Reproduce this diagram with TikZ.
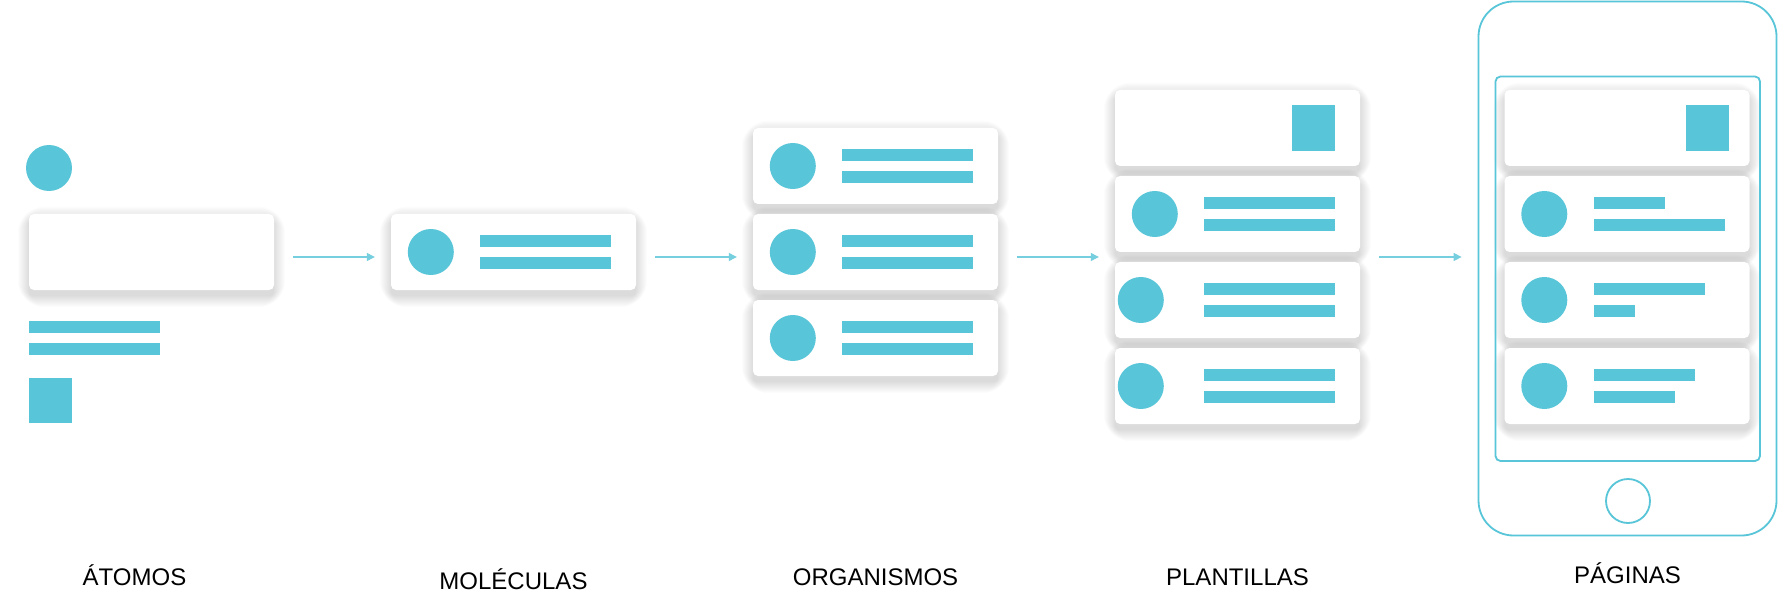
\documentclass[tikz,border=0pt]{standalone}
\usepackage{fontspec}
\setmainfont{Liberation Sans}
\usetikzlibrary{arrows.meta}
\pgfdeclarelayer{background}
\pgfsetlayers{background,main}
\definecolor{atomblue}{RGB}{88,197,216}
\definecolor{flowblue}{RGB}{118,207,222}

\begin{document}
\begin{tikzpicture}[x=1pt,y=-1pt,
    card/.style={fill=white,rounded corners=5pt,minimum width=245pt,minimum height=76pt,inner sep=0pt},
    dot/.style={circle,fill=atomblue,minimum size=46pt,inner sep=0pt},
    bar/.style={fill=atomblue,minimum height=12pt,inner sep=0pt,anchor=west},
    sq/.style={fill=atomblue,minimum width=43pt,minimum height=46pt,inner sep=0pt},
    outline/.style={draw=atomblue,line width=1.8pt,inner sep=0pt},
    haze/.style={fill=black,opacity=0.013},
    flow/.style={draw=flowblue,line width=1.2pt,-{Triangle[length=8pt,width=8pt]},shorten <=19pt,shorten >=16pt},
    lbl/.style={anchor=base,font=\fontsize{24}{28}\selectfont}]

    % atomos
    \node[dot] (a1) at (49,168) {};
    \node[card] (atom) at (151.5,252) {};
    \node[bar,minimum width=131pt] (a2) at (29,327) {};
    \node[bar,minimum width=131pt] (a3) at (29,349) {};
    \node[sq,minimum height=45pt] (a4) at (50.5,400.5) {};

    % moleculas
    \node[card] (mol) at (513.5,252) {};
    \node[dot] (md) at ([xshift=40pt]mol.west) {};
    \node[bar,minimum width=131pt] (mb) at ([xshift=89pt,yshift=11pt]mol.west) {};
    \node[bar,minimum width=131pt] (mc) at ([xshift=89pt,yshift=-11pt]mol.west) {};

    % organismos
    \foreach \y [count=\i from 1] in {166,252,338} {
      \node[card] (o\i) at (875.5,\y) {};
      \node[dot] (od\i) at ([xshift=40pt]o\i.west) {};
      \node[bar,minimum width=131pt] (ob\i) at ([xshift=89pt,yshift=11pt]o\i.west) {};
      \node[bar,minimum width=131pt] (oc\i) at ([xshift=89pt,yshift=-11pt]o\i.west) {};
    }

    % plantillas
    \node[card] (t1) at (1237.5,128) {};
    \node[sq] (ts) at ([xshift=-46.5pt]t1.east) {};
    \foreach \y/\dx [count=\i from 2] in {214/40,300/26,386/26} {
      \node[card] (t\i) at (1237.5,\y) {};
      \node[dot] (td\i) at ([xshift=\dx pt]t\i.west) {};
      \node[bar,minimum width=131pt] (tb\i) at ([xshift=89pt,yshift=11pt]t\i.west) {};
      \node[bar,minimum width=131pt] (tc\i) at ([xshift=89pt,yshift=-11pt]t\i.west) {};
    }

    % paginas
    \node[outline,rounded corners=35pt,minimum width=298pt,minimum height=534pt] (phone) at (1627.5,268.5) {};
    \node[outline,rounded corners=5pt,minimum width=264.5pt,minimum height=384.5pt] (screen) at (1627.75,268.75) {};
    \node[outline,circle,minimum size=44pt] (home) at (1628,501) {};
    \node[card] (p1) at (1627,128) {};
    \node[sq] (ps) at ([xshift=-42.5pt]p1.east) {};
    \foreach \y/\wa/\wb [count=\i from 2] in {214/71/131,300/111/41,386/101/81} {
      \node[card] (p\i) at (1627,\y) {};
      \node[dot] (pd\i) at ([xshift=40pt]p\i.west) {};
      \node[bar,minimum width=\wa pt] (pb\i) at ([xshift=89pt,yshift=11pt]p\i.west) {};
      \node[bar,minimum width=\wb pt] (pc\i) at ([xshift=89pt,yshift=-11pt]p\i.west) {};
    }

    % soft shadows under the cards
    \begin{pgfonlayer}{background}
      \path[use as bounding box,fill=white] (0,0) rectangle (1778,589);
      \foreach \n in {atom,mol,o1,o2,o3,t1,t2,t3,t4,p1,p2,p3,p4}
        \foreach \k [evaluate=\k as \s using 2*\k, evaluate=\k as \u using 6-1.2*\k, evaluate=\k as \r using 5+2*\k] in {0,...,11}
          \fill[haze,rounded corners=\r pt] ([shift={(-\s,6+\s)}]\n.south west) rectangle ([shift={(\s,\u)}]\n.north east);
    \end{pgfonlayer}

    \coordinate (row) at (0,257);
    \draw[flow] (atom.east |- row) -- (mol.west |- row);
    \draw[flow] (mol.east |- row) -- (o2.west |- row);
    \draw[flow] (o2.east |- row) -- (t2.west |- row);
    \draw[flow] (t2.east |- row) -- (phone.west |- row);

    \node[lbl] (la) at (134.5,585) {ÁTOMOS};
    \node[lbl] (lm) at (513.5,589) {MOLÉCULAS};
    \node[lbl] (lo) at (875.5,585) {ORGANISMOS};
    \node[lbl] (lt) at (1237.5,585) {PLANTILLAS};
    \node[lbl] (lp) at (1627.5,583) {PÁGINAS};
  \end{tikzpicture}
\end{document}
